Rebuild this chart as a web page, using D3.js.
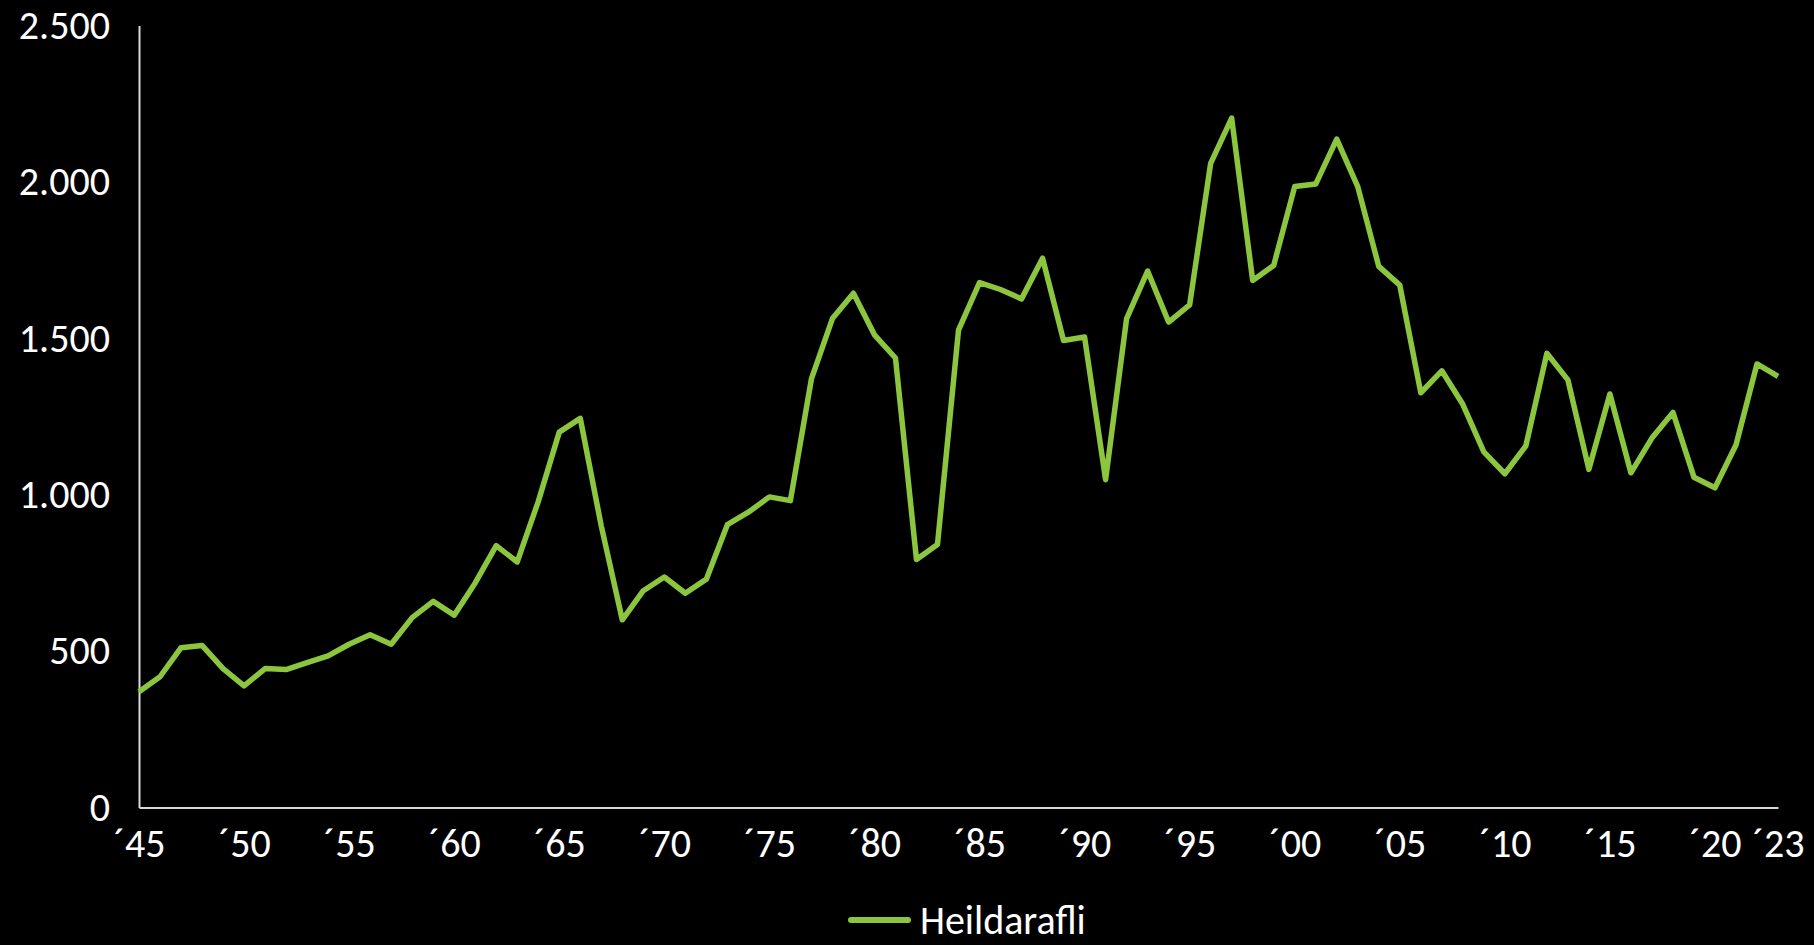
<!DOCTYPE html>
<html>
<head>
<meta charset="utf-8">
<script src="https://cdn.jsdelivr.net/npm/d3@7"></script>
<style>
  html, body { margin: 0; padding: 0; background: #000; }
  svg { display: block; }
  text { font-family: Calibri, Carlito, Lato, sans-serif; fill: #fff; }
</style>
</head>
<body>
<div id="chart"></div>
<script>
// Heildarafli (total catch), 1945-2023
const years = d3.range(1945, 2024);
const values = [
  370, 418, 511, 518, 444, 389, 444, 441, 463, 485,
  522, 552, 522, 607, 659, 615, 718, 837, 785, 978,
  1200, 1244, 900, 600, 693, 737, 685, 730, 904, 944,
  993, 981, 1370, 1563, 1644, 1511, 1437, 793, 841, 1526,
  1678, 1656, 1626, 1756, 1493, 1504, 1048, 1563, 1715, 1552,
  1607, 2059, 2204, 1685, 1733, 1985, 1993, 2137, 1985, 1730,
  1670, 1326, 1396, 1289, 1137, 1067, 1156, 1452, 1367, 1081,
  1322, 1070, 1181, 1263, 1056, 1022, 1159, 1418, 1378
];
const xTickYears = [1945, 1950, 1955, 1960, 1965, 1970, 1975, 1980, 1985, 1990, 1995, 2000, 2005, 2010, 2015, 2020, 2023];
const yTicks = [0, 500, 1000, 1500, 2000, 2500];
const seriesName = 'Heildarafli';

const width = 1814, height = 945;
const margin = {top: 25.5, right: 36, bottom: 137.5, left: 139};
const lineColor = '#8cc63f';

const svg = d3.select('#chart').append('svg')
    .attr('width', width)
    .attr('height', height);

svg.append('rect').attr('width', width).attr('height', height).attr('fill', '#000');

const x = d3.scaleLinear()
    .domain([1945, 2023])
    .range([margin.left, width - margin.right]);

const y = d3.scaleLinear()
    .domain([0, 2500])
    .range([height - margin.bottom, margin.top]);

const fmt = v => d3.format(',')(v).replace(/,/g, '.');

// y axis
const yAxis = svg.append('g')
    .attr('transform', `translate(${margin.left},0)`)
    .call(d3.axisLeft(y).tickValues(yTicks).tickSize(0).tickPadding(29).tickFormat(fmt));
yAxis.select('.domain').attr('stroke', '#d9d9d9').attr('stroke-width', 2);
yAxis.selectAll('text').attr('font-size', 40).attr('fill', '#fff').style('font-family', 'Calibri, Carlito, Lato, sans-serif');

// x axis
const xAxis = svg.append('g')
    .attr('transform', `translate(0,${height - margin.bottom})`)
    .call(d3.axisBottom(x).tickValues(xTickYears).tickSize(0).tickPadding(21)
      .tickFormat(d => '\u00b4' + String(d).slice(2)));
xAxis.select('.domain').attr('stroke', '#d9d9d9').attr('stroke-width', 2);
xAxis.selectAll('text').attr('font-size', 40).attr('fill', '#fff').style('font-family', 'Calibri, Carlito, Lato, sans-serif');

// line
const line = d3.line()
    .x((d, i) => x(years[i]))
    .y(d => y(d));

svg.append('path')
    .datum(values)
    .attr('fill', 'none')
    .attr('stroke', lineColor)
    .attr('stroke-width', 5.5)
    .attr('stroke-linejoin', 'round')
    .attr('d', line);

// legend
const legend = svg.append('g').attr('transform', 'translate(851,920)');
legend.append('line')
    .attr('x1', 0).attr('x2', 57)
    .attr('stroke', lineColor).attr('stroke-width', 6).attr('stroke-linecap', 'round');
legend.append('text')
    .attr('x', 69)
    .attr('dy', '0.35em')
    .attr('font-size', 40)
    .text(seriesName);
</script>
</body>
</html>
